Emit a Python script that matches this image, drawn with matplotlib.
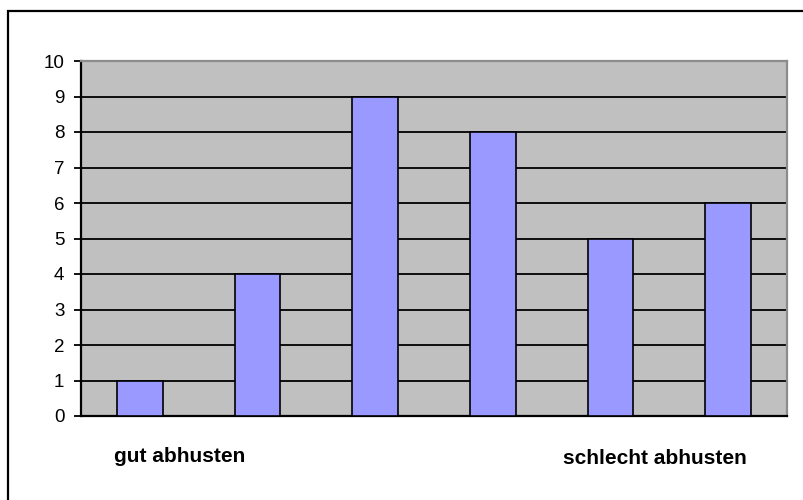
import matplotlib.pyplot as plt
from matplotlib.patches import Rectangle

# Werte aus dem Diagramm
kategorien = ['1', '2', '3', '4', '5', '6']
werte = [1, 4, 9, 8, 5, 6]
y_ticks = list(range(0, 11))

plt.rcParams['font.family'] = ['Liberation Sans', 'DejaVu Sans']

fig = plt.figure(figsize=(8.04, 5.0), dpi=100)
W, H = 804, 500

# Rahmen um das Diagramm (rechts und unten abgeschnitten)
fig.patches.append(Rectangle((8 / W, -0.05), 1.0, 1.05 - 11 / H,
                             transform=fig.transFigure, fill=False,
                             edgecolor='black', linewidth=1.6))

left, right, top, bottom = 81, 787, 61, 416
ax = fig.add_axes([left / W, 1 - bottom / H, (right - left) / W, (bottom - top) / H])
ax.set_facecolor('#C0C0C0')

x = range(len(werte))
ax.bar(x, werte, width=0.39, color='#9999FF', edgecolor='black', linewidth=1.2, zorder=3)

ax.set_xlim(-0.5, len(werte) - 0.5)
ax.set_ylim(0, 10)
ax.set_yticks(y_ticks)
ax.set_xticks([])
ax.tick_params(axis='y', direction='out', length=5, width=1.3, labelsize=13.5, pad=7)
ax.grid(axis='y', color='black', linewidth=1.3, zorder=1)
ax.set_axisbelow(True)

for s in ['top', 'right']:
    ax.spines[s].set_color('#8C8C8C')
    ax.spines[s].set_linewidth(1.6)
for s in ['left', 'bottom']:
    ax.spines[s].set_color('black')
    ax.spines[s].set_linewidth(1.6)

fig.text(180 / W, 1 - 457 / H, 'gut abhusten', ha='center', va='center',
         fontsize=15, fontweight='bold')
fig.text(655 / W, 1 - 458 / H, 'schlecht abhusten', ha='center', va='center',
         fontsize=15, fontweight='bold')

fig.savefig('out.png', dpi=100)
